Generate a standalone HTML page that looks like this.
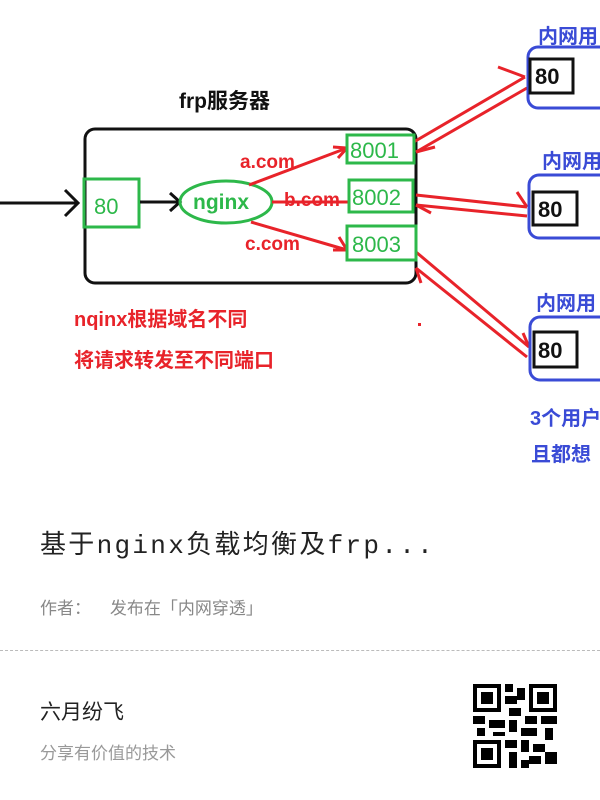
<!DOCTYPE html>
<html><head><meta charset="utf-8"><style>
body{margin:0;width:600px;height:800px;background:#fff;overflow:hidden;font-family:"Liberation Sans","Noto Sans CJK SC",sans-serif;position:relative}
.t{position:absolute;white-space:nowrap}
</style></head><body>
<svg width="600" height="480" style="position:absolute;left:0;top:0" font-family="Liberation Sans, Noto Sans CJK SC, sans-serif" font-weight="bold">
<rect width="600" height="480" fill="#fff"/>
<text x="179" y="108" font-size="21" fill="#111">frp服务器</text>
<rect x="85" y="129" width="331" height="154" rx="10" fill="none" stroke="#111" stroke-width="3"/>
<line x1="0" y1="203" x2="78" y2="203" stroke="#111" stroke-width="3"/>
<polyline points="65,190 78,203 65,216" fill="none" stroke="#111" stroke-width="3"/>
<rect x="84" y="179" width="55" height="48" fill="none" stroke="#2db84a" stroke-width="3"/>
<text x="94" y="214" font-size="22" fill="#2db84a" font-weight="normal">80</text>
<line x1="140" y1="202" x2="180" y2="202" stroke="#111" stroke-width="3"/>
<polyline points="170,193 180,202 170,211" fill="none" stroke="#111" stroke-width="3"/>
<ellipse cx="226" cy="202" rx="46" ry="21" fill="none" stroke="#2db84a" stroke-width="3"/>
<text x="193" y="209" font-size="21" fill="#2db84a">nginx</text>
<g stroke="#e8232a" stroke-width="3" fill="none">
<line x1="249" y1="185" x2="347" y2="148"/><polyline points="333,147 347,148 338,158"/>
<line x1="272" y1="202" x2="352" y2="202"/>
<line x1="251" y1="222" x2="347" y2="250"/><polyline points="339,237 347,250 333,250"/>
<line x1="412" y1="143" x2="525" y2="77"/><line x1="416" y1="152" x2="527" y2="88"/><polyline points="498,67 525,77"/><polyline points="435,147 416,152"/>
<line x1="416" y1="195" x2="527" y2="207"/><line x1="416" y1="205" x2="527" y2="216"/><polyline points="517,192 527,207"/><polyline points="431,213 416,205"/>
<line x1="416" y1="252" x2="529" y2="347"/><line x1="416" y1="268" x2="527" y2="357"/><polyline points="523,333 529,347"/><polyline points="421,283 416,268"/>
</g>
<text x="240" y="168" font-size="19" fill="#e8232a">a.com</text>
<text x="284" y="206" font-size="19" fill="#e8232a">b.com</text>
<text x="245" y="250" font-size="19" fill="#e8232a">c.com</text>
<g fill="#fff" stroke="#2db84a" stroke-width="3"><rect x="347" y="135" width="67" height="28"/><rect x="349" y="180" width="64" height="32"/><rect x="347" y="226" width="69" height="34"/></g>
<g font-size="22" fill="#2db84a" font-weight="normal"><text x="350" y="158">8001</text><text x="352" y="205">8002</text><text x="352" y="252">8003</text></g>
<g fill="none" stroke="#3a4bd6" stroke-width="3"><rect x="528" y="47" width="90" height="61" rx="10"/><rect x="529" y="175" width="90" height="63" rx="10"/><rect x="530" y="317" width="90" height="63" rx="10"/></g>
<g font-size="20" fill="#3a4bd6"><text x="538" y="43">内网用</text><text x="542" y="168">内网用</text><text x="536" y="310">内网用</text><text x="530" y="425">3个用户</text><text x="531" y="461">且都想</text></g>
<g fill="#fff" stroke="#111" stroke-width="3"><rect x="530" y="59" width="43" height="34"/><rect x="533" y="192" width="44" height="33"/><rect x="534" y="332" width="43" height="35"/></g>
<g font-size="22" fill="#111"><text x="535" y="84">80</text><text x="538" y="217">80</text><text x="538" y="358">80</text></g>
<g font-size="20" fill="#e8232a"><text x="74" y="326">nqinx根据域名不同</text><text x="74" y="367">将请求转发至不同端口</text></g>
<rect x="418" y="323" width="3" height="3" fill="#e8232a"/>
</svg>
<div class="t" style="left:40px;top:524px;font-size:26px;letter-spacing:2.3px;color:#222;font-family:'Liberation Mono','Noto Sans CJK SC',monospace">基于nginx负载均衡及frp...</div>
<div class="t" style="left:40px;top:594px;font-size:17px;color:#888">作者：&nbsp;&nbsp;&nbsp;&nbsp;发布在「内网穿透」</div>
<div style="position:absolute;left:0;top:650px;width:600px;border-top:1px dashed #bbb"></div>
<div class="t" style="left:40px;top:696px;font-size:21px;color:#222">六月纷飞</div>
<div class="t" style="left:40px;top:739px;font-size:17px;color:#999">分享有价值的技术</div>
<svg width="84" height="84" viewBox="0 0 21 21" style="position:absolute;left:473px;top:684px" shape-rendering="crispEdges">
<g fill="#000">
<path d="M0 0h7v7h-7zM1 1v5h5v-5zM2 2h3v3h-3z" fill-rule="evenodd"/>
<path d="M14 0h7v7h-7zM15 1v5h5v-5zM16 2h3v3h-3z" fill-rule="evenodd"/>
<path d="M0 14h7v7h-7zM1 15v5h5v-5zM2 16h3v3h-3z" fill-rule="evenodd"/>
<rect x="8" y="0" width="2" height="2"/><rect x="11" y="1" width="2" height="3"/><rect x="8" y="3" width="3" height="2"/><rect x="9" y="6" width="3" height="2"/>
<rect x="0" y="8" width="3" height="2"/><rect x="4" y="9" width="4" height="2"/><rect x="9" y="9" width="2" height="3"/><rect x="13" y="8" width="3" height="2"/><rect x="17" y="8" width="4" height="2"/>
<rect x="1" y="11" width="2" height="2"/><rect x="5" y="12" width="3" height="1"/><rect x="12" y="11" width="4" height="2"/><rect x="18" y="11" width="2" height="3"/>
<rect x="8" y="14" width="3" height="2"/><rect x="12" y="14" width="2" height="3"/><rect x="15" y="15" width="3" height="2"/><rect x="9" y="17" width="2" height="4"/><rect x="14" y="18" width="3" height="2"/><rect x="18" y="17" width="3" height="3"/><rect x="12" y="19" width="2" height="2"/>
</g></svg>
</body></html>
